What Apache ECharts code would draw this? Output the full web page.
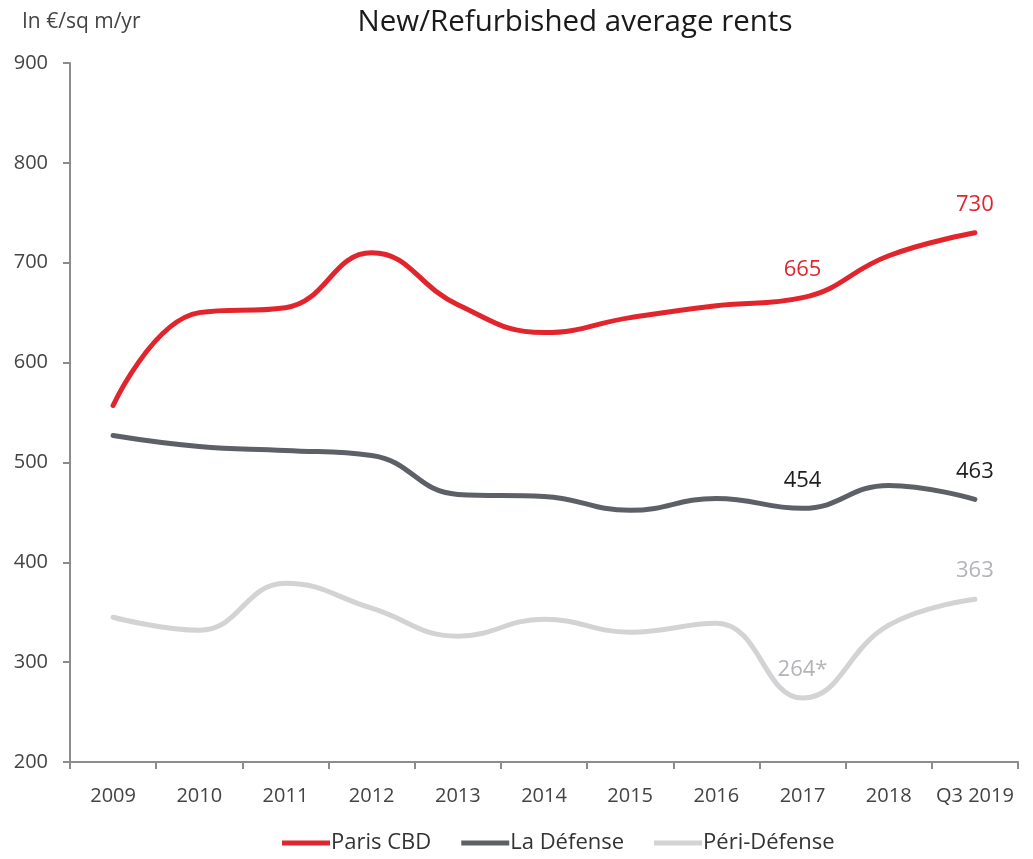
<!DOCTYPE html>
<html>
<head>
<meta charset="utf-8">
<script src="https://cdn.jsdelivr.net/npm/echarts@6/dist/echarts.min.js"></script>
<style>
  html, body { margin: 0; padding: 0; background: #fff; }
  #chart { width: 1033px; height: 859px; }
</style>
</head>
<body>
<div id="chart"></div>
<script>
const years = ['2009', '2010', '2011', '2012', '2013', '2014', '2015', '2016', '2017', '2018', 'Q3 2019'];
const parisCBD = [557, 650, 655, 710, 658, 630, 645, 657, 665, 707, 730];
const laDefense = [527, 516, 512, 507, 468, 466, 452, 464, 454, 477, 463];
const periDefense = [345, 332, 379, 354, 326, 343, 330, 339, 264, 337, 363];
// which points carry a value label
const labelled = [8, 10];
const labelSuffix = { 'Péri-Défense': ['*', ''] };

const FONT = 'Open Sans';
const chart = echarts.init(document.getElementById('chart'), null, { renderer: 'canvas' });

const withLabels = (values, name, color) =>
  values.map((v, i) => {
    const k = labelled.indexOf(i);
    if (k < 0) return v;
    const suffix = labelSuffix[name] ? labelSuffix[name][k] : '';
    return {
      value: v,
      label: {
        show: true,
        position: 'top',
        distance: 17,
        color: color,
        fontSize: 22,
        fontFamily: FONT,
        formatter: v + suffix
      }
    };
  });

const makeSeries = (name, values, color, labelColor) => ({
  name: name,
  type: 'line',
  smooth: 0.45,
  symbol: 'circle',
  symbolSize: 0.1,
  showAllSymbol: true,
  lineStyle: { color: color, width: 5, cap: 'round' },
  itemStyle: { color: color },
  data: withLabels(values, name, labelColor)
});

const option = {
  backgroundColor: '#fff',
  animation: false,
  title: {
    text: 'New/Refurbished average rents',
    left: 570,
    textAlign: 'center',
    top: 3,
    textStyle: { fontFamily: FONT, fontWeight: 'normal', fontSize: 29.5, color: '#1a1a1a' }
  },
  legend: {
    bottom: 0,
    left: 277,
    icon: 'rect',
    itemWidth: 48,
    itemHeight: 5,
    itemGap: 30,
    textStyle: { fontFamily: FONT, fontSize: 22, color: '#333', padding: [0, 0, 0, -4] },
    data: ['Paris CBD', 'La Défense', 'Péri-Défense']
  },
  grid: { left: 70, right: 15, top: 63, bottom: 97 },
  xAxis: {
    type: 'category',
    data: years,
    boundaryGap: true,
    axisLine: { lineStyle: { color: '#8c8c8c', width: 2 } },
    axisTick: { show: true, length: 7, lineStyle: { color: '#8c8c8c', width: 2 } },
    axisLabel: { interval: 0, fontFamily: FONT, fontSize: 20, color: '#444', margin: 24 }
  },
  yAxis: {
    type: 'value',
    min: 200,
    max: 900,
    interval: 100,
    name: 'In €/sq m/yr',
    nameLocation: 'end',
    nameGap: 30,
    nameTextStyle: { fontFamily: FONT, fontSize: 21, color: '#444', align: 'left', padding: [0, 0, 0, -48] },
    axisLine: { show: true, lineStyle: { color: '#8c8c8c', width: 2 } },
    axisTick: { show: true, length: 7, lineStyle: { color: '#8c8c8c', width: 2 } },
    axisLabel: { fontFamily: FONT, fontSize: 20, color: '#444', margin: 22 },
    splitLine: { show: false }
  },
  series: [
    makeSeries('Paris CBD', parisCBD, '#e2252c', '#e2252c'),
    makeSeries('La Défense', laDefense, '#5d6167', '#1e1e1e'),
    makeSeries('Péri-Défense', periDefense, '#d3d3d5', '#b3b3b8')
  ]
};

chart.setOption(option);
window.addEventListener('resize', chart.resize);
</script>
</body>
</html>
